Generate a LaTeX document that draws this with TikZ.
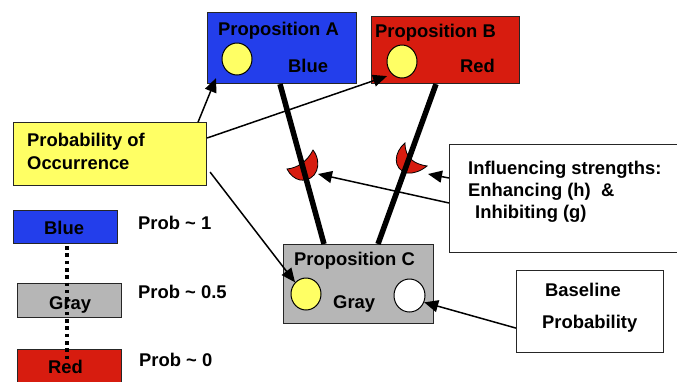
\documentclass[tikz,border=0pt]{standalone}
\usepackage{fontspec}
\setmainfont{Liberation Sans}
\usetikzlibrary{arrows.meta,calc,shapes.geometric}
\definecolor{pblue}{RGB}{35,62,235}
\definecolor{pred}{RGB}{215,28,15}
\definecolor{pyellow}{RGB}{255,255,100}
\definecolor{pgray}{RGB}{182,182,182}
\begin{document}
\begin{tikzpicture}[x=1pt,y=-1pt,
  font=\fontsize{18.4}{22}\selectfont\bfseries,
  box/.style={draw=black!85, line width=1.1pt, inner sep=0pt, anchor=north west},
  dot/.style={ellipse, draw=black, line width=1pt, minimum width=30pt, minimum height=32pt, inner sep=0pt},
  txt/.style={anchor=base west, inner sep=0pt},
  arr/.style={line width=1.5pt, -{Triangle[length=14pt,width=12pt]}},
  strong/.style={line width=5.5pt},
  horn/.style={fill=pred, draw=black, line width=0.8pt}]
\useasboundingbox (0,0) rectangle (677,381);
% boxes
\node[box, fill=pblue, minimum width=149pt, minimum height=71pt] (A) at (207,12) {};
\node[box, fill=pred, minimum width=148pt, minimum height=67pt] (B) at (371,16) {};
\node[box, fill=pyellow, minimum width=193pt, minimum height=63pt] (P) at (13,122) {};
\node[box, fill=pgray, minimum width=150pt, minimum height=79pt] (C) at (283,244) {};
\node[box, fill=white, minimum width=147pt, minimum height=82pt] (BL) at (516,270) {};
\node[box, fill=white, minimum width=240pt, minimum height=108pt] (I) at (449,144) {};
\node[box, fill=pblue, minimum width=104pt, minimum height=33pt] (LB) at (13,210) {};
\node[box, fill=pgray, minimum width=104pt, minimum height=34pt] (LG) at (17,283) {};
\node[box, fill=pred, minimum width=104pt, minimum height=45pt] (LR) at (17,349) {};
% circles
\node[dot, fill=pyellow] (ca) at (237,59) {};
\node[dot, fill=pyellow, minimum height=33pt] (cb) at (402,61.5) {};
\node[dot, fill=pyellow] (cc) at (306,294) {};
\node[dot, fill=white, minimum width=31pt, minimum height=33pt] (cw) at (409.5,295.5) {};
% texts
\node[txt] (tA) at (218,35) {Proposition A};
\node[txt] (tAb) at (288,72) {Blue};
\node[txt] (tB) at (375,37) {Proposition B};
\node[txt] (tBr) at (460,72) {Red};
\node[txt] (tP1) at (27,146) {Probability of};
\node[txt] (tP2) at (27,169) {Occurrence};
\node[txt] (tC) at (294,265) {Proposition C};
\node[txt] (tCg) at (333,308) {Gray};
\node[txt] (tBL1) at (545,296) {Baseline};
\node[txt] (tBL2) at (542,328) {Probability};
\node[txt] (tI1) at (468,174) {Influencing strengths:};
\node[txt] (tI2) at (468,196) {Enhancing (h)\ \ \&};
\node[txt] (tI3) at (475,218) {Inhibiting (g)};
\node[txt] (tLB) at (44,234) {Blue};
\node[txt] (tLG) at (49,309) {Gray};
\node[txt] (tLR) at (48,373) {Red};
\node[txt] (p1) at (138,229) {Prob \textasciitilde\ 1};
\node[txt] (p2) at (138,298) {Prob \textasciitilde\ 0.5};
\node[txt] (p3) at (139,366) {Prob \textasciitilde\ 0};
% crescents
\path[horn] (313,150) .. controls (323,163) and (317,182) .. (300,180)
  .. controls (295,179) and (290,175) .. (287,169)
  .. controls (297,168) and (307,162) .. (313,150) -- cycle;
\path[horn] (405,143) .. controls (394,152) and (392,169) .. (407,173)
  .. controls (413,174) and (421,171) .. (427,166)
  .. controls (414,164) and (405,158) .. (405,143) -- cycle;
% thick links
\draw[strong] ($(A.south west)+(73,0)$) -- ($(C.north west)+(41,0)$);
\draw[strong] ($(B.south west)+(65,0)$) -- ($(C.north west)+(95,0)$);
% arrows
\draw[arr] ($(P.north east)+(-9,0)$) -- ($(A.south west)+(9,-6)$);
\draw[arr] ($(P.north east)+(0,16)$) -- ($(B.south west)+(16,-8)$);
\draw[arr] ($(P.south east)+(3,-14)$) -- (cc.north west);
\draw[arr] ($(BL.south west)+(0,-25)$) -- (cw.-25);
\draw[arr] ($(I.north west)+(0,34)$) -- (428,174);
\draw[arr] ($(I.north west)+(0,59)$) -- (318,174);
% legend dotted line
\draw[line width=3.5pt, dash pattern=on 3.5pt off 3.8pt] ($(LB.south west)+(54,2)$) -- ($(LR.north west)+(50,12)$);
\end{tikzpicture}
\end{document}
